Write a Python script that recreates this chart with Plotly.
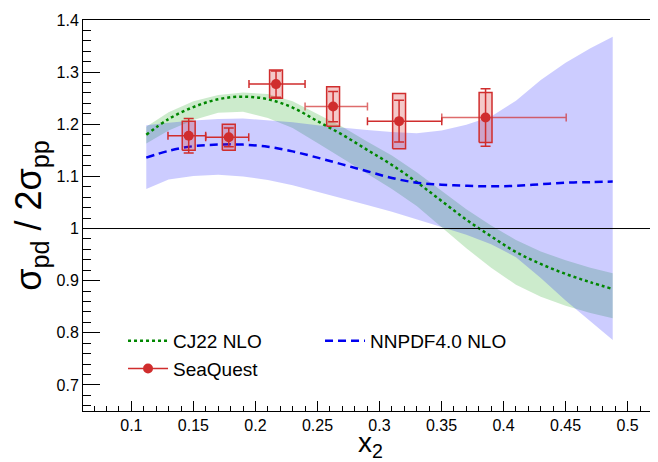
import plotly.graph_objects as go

# ---------------- data ----------------
x_grid = [0.112, 0.13, 0.15, 0.17, 0.19, 0.21, 0.23, 0.25, 0.27, 0.29,
          0.31, 0.33, 0.35, 0.37, 0.39, 0.41, 0.43, 0.45, 0.47, 0.488]

cj22_central = [1.180, 1.210, 1.233, 1.248, 1.253, 1.248, 1.232, 1.206, 1.180, 1.151,
                1.122, 1.089, 1.053, 1.017, 0.985, 0.955, 0.932, 0.913, 0.897, 0.884]
cj22_upper = [1.195, 1.223, 1.244, 1.256, 1.261, 1.258, 1.244, 1.220, 1.195, 1.167,
              1.140, 1.108, 1.072, 1.037, 1.006, 0.978, 0.956, 0.939, 0.925, 0.914]
cj22_lower = [1.163, 1.188, 1.208, 1.222, 1.224, 1.212, 1.193, 1.164, 1.135, 1.106,
              1.076, 1.043, 1.003, 0.962, 0.925, 0.892, 0.869, 0.852, 0.838, 0.828]

nnpdf_central = [1.136, 1.149, 1.158, 1.161, 1.161, 1.157, 1.148, 1.136, 1.123, 1.110,
                 1.097, 1.088, 1.084, 1.082, 1.081, 1.082, 1.085, 1.088, 1.089, 1.090]
nnpdf_upper = [1.198, 1.203, 1.207, 1.210, 1.211, 1.208, 1.204, 1.198, 1.193, 1.189,
               1.185, 1.183, 1.188, 1.199, 1.215, 1.245, 1.285, 1.318, 1.346, 1.368]
nnpdf_lower = [1.076, 1.094, 1.101, 1.103, 1.100, 1.093, 1.083, 1.070, 1.058, 1.045,
               1.032, 1.018, 1.003, 0.988, 0.970, 0.945, 0.905, 0.862, 0.822, 0.786]

seaquest_x = [0.1462, 0.1785, 0.2166, 0.2626, 0.3158, 0.3855]
seaquest_y = [1.178, 1.175, 1.277, 1.234, 1.206, 1.213]
seaquest_bin_lo = [0.1295, 0.1599, 0.1948, 0.2400, 0.2903, 0.3502]
seaquest_bin_hi = [0.1599, 0.1946, 0.2400, 0.2903, 0.3502, 0.4505]
seaquest_stat = [0.033, 0.018, 0.025, 0.029, 0.040, 0.055]
seaquest_sys = [0.028, 0.025, 0.027, 0.038, 0.053, 0.048]

x_ticks = [0.1, 0.15, 0.2, 0.25, 0.3, 0.35, 0.4, 0.45, 0.5]
y_ticks = [0.7, 0.8, 0.9, 1.0, 1.1, 1.2, 1.3, 1.4]

# ---------------- style ----------------
RED = "rgb(208,45,45)"
RED_LIGHT = "rgba(208,45,45,0.7)"
BOX_FILL = "rgba(210,40,40,0.25)"
BOX_HALF = 0.0052
LIGHT_HBAR_POINTS = {3, 5}
FONT = "Liberation Sans, Arial, Helvetica, sans-serif"

fig = go.Figure()

# CJ22 band
fig.add_trace(go.Scatter(
    x=x_grid + x_grid[::-1], y=cj22_upper + cj22_lower[::-1],
    fill="toself", fillcolor="rgba(0,153,0,0.2)", line=dict(width=0),
    mode="lines", showlegend=False, hoverinfo="skip"))
# NNPDF band
fig.add_trace(go.Scatter(
    x=x_grid + x_grid[::-1], y=nnpdf_upper + nnpdf_lower[::-1],
    fill="toself", fillcolor="rgba(0,0,255,0.2)", line=dict(width=0),
    mode="lines", showlegend=False, hoverinfo="skip"))

# central curves
fig.add_trace(go.Scatter(
    x=x_grid, y=cj22_central, mode="lines", name="CJ22 NLO",
    line=dict(color="rgb(0,135,0)", width=2.5, dash="3px,3px", shape="spline")))
fig.add_trace(go.Scatter(
    x=x_grid, y=nnpdf_central, mode="lines", name="NNPDF4.0 NLO",
    line=dict(color="rgb(0,0,240)", width=2.5, dash="8px,5px", shape="spline")))

# systematic boxes
bx, by = [], []
for xc, yc, s in zip(seaquest_x, seaquest_y, seaquest_sys):
    bx += [xc - BOX_HALF, xc + BOX_HALF, xc + BOX_HALF, xc - BOX_HALF, xc - BOX_HALF, None]
    by += [yc - s, yc - s, yc + s, yc + s, yc - s, None]
fig.add_trace(go.Scatter(
    x=bx, y=by, mode="lines", fill="toself", fillcolor=BOX_FILL,
    line=dict(color=RED, width=1.5), showlegend=False, hoverinfo="skip"))

# legend proxy for SeaQuest
fig.add_trace(go.Scatter(
    x=[None], y=[None], mode="lines+markers", name="SeaQuest",
    line=dict(color=RED, width=1.5), marker=dict(color=RED, size=10)))

# data points (two groups differing only in horizontal-bar shade)
for light in (False, True):
    idx = [i for i in range(len(seaquest_x)) if (i in LIGHT_HBAR_POINTS) == light]
    fig.add_trace(go.Scatter(
        x=[seaquest_x[i] for i in idx], y=[seaquest_y[i] for i in idx],
        mode="markers", showlegend=False,
        marker=dict(color=RED, size=10),
        error_x=dict(type="data", symmetric=False,
                     array=[seaquest_bin_hi[i] - seaquest_x[i] for i in idx],
                     arrayminus=[seaquest_x[i] - seaquest_bin_lo[i] for i in idx],
                     color=RED_LIGHT if light else RED, thickness=1.5, width=4),
        error_y=dict(type="data", array=[seaquest_stat[i] for i in idx],
                     color=RED, thickness=1.5, width=5)))

fig.add_hline(y=1, line=dict(color="black", width=1))

# page has an 8px body margin: figure is sized to the visible area
fig.update_layout(
    width=650, height=454,
    margin=dict(l=75, r=0, t=12, b=51, autoexpand=False),
    plot_bgcolor="white", paper_bgcolor="white",
    font=dict(family=FONT, color="black"),
    legend=dict(orientation="h", x=0.0696, y=0.2276, xanchor="left", yanchor="top",
                font=dict(size=19, family=FONT), entrywidth=142, itemwidth=40,
                bgcolor="rgba(0,0,0,0)", traceorder="normal"),
)

fig.update_xaxes(
    range=[0.061, 0.5245], showline=True, linecolor="black", linewidth=1, mirror=True,
    automargin=False,
    ticks="inside", ticklen=10, tickwidth=1, tickcolor="black",
    tickvals=x_ticks, ticktext=[f"{v:g}" for v in x_ticks],
    minor=dict(dtick=0.01, tick0=0, ticklen=5, ticks="inside", tickcolor="black"),
    showgrid=False, zeroline=False, tickfont=dict(size=16),
    title=dict(text="x<sub>2</sub>", font=dict(size=28), standoff=0))

fig.update_yaxes(
    range=[0.65, 1.4], showline=True, linecolor="black", linewidth=1,
    automargin=False,
    ticks="inside", ticklen=17, tickwidth=1, tickcolor="black",
    tickvals=y_ticks, ticktext=[f"{v:g}" for v in y_ticks],
    minor=dict(dtick=0.02, tick0=0, ticklen=8, ticks="inside", tickcolor="black"),
    showgrid=False, zeroline=False, tickfont=dict(size=16),
    title=dict(text="σ<sub>pd</sub> / 2σ<sub>pp</sub>", font=dict(size=36), standoff=9))

fig.write_html("out.html")
